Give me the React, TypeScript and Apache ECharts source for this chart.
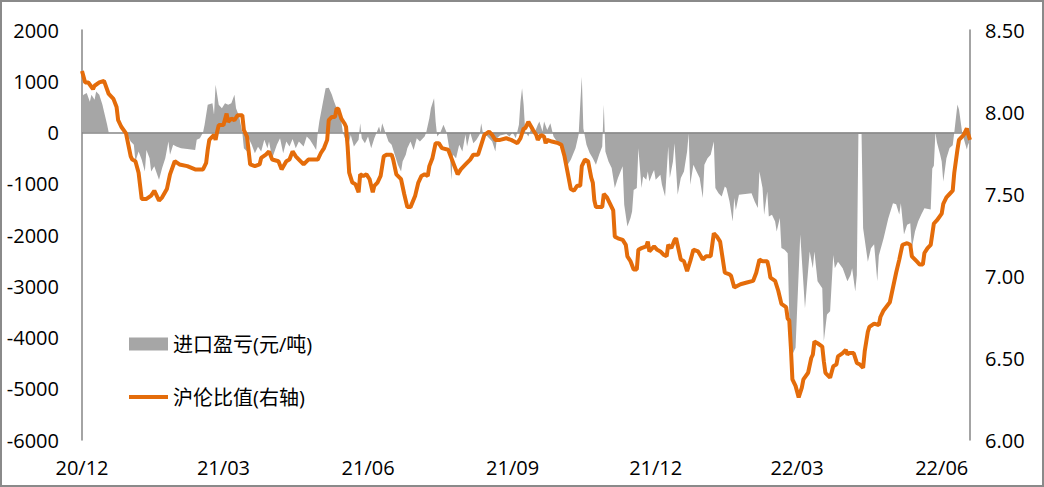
import React, { useEffect, useRef } from "react";
import * as echarts from "echarts";

const FONT = "'Open Sans', 'Noto Sans CJK SC', sans-serif";

const profitName = "进口盈亏(元/吨)";
const ratioName = "沪伦比值(右轴)";

const xTickDates = ["2020-12-01", "2021-03-01", "2021-06-01", "2021-09-01", "2021-12-01", "2022-03-01", "2022-06-01"];
const leftTicks = { min: -6000, max: 2000, interval: 1000 };
const rightTicks = { min: 6, max: 8.5, interval: 0.5 };

// 进口盈亏 (元/吨)
const profitData: [string, number][] = [
  ["2020-12-01", 700], ["2020-12-02", 735], ["2020-12-04", 770], ["2020-12-06", 600], ["2020-12-07", 735],
  ["2020-12-09", 640], ["2020-12-10", 800], ["2020-12-12", 735], ["2020-12-14", 540], ["2020-12-15", 410],
  ["2020-12-17", 150], ["2020-12-18", 0], ["2020-12-21", 0], ["2020-12-29", 0], ["2021-01-01", -175],
  ["2021-01-03", -240], ["2021-01-04", -565], ["2021-01-06", -370], ["2021-01-08", -530], ["2021-01-10", -760],
  ["2021-01-11", -340], ["2021-01-13", -500], ["2021-01-14", -760], ["2021-01-16", -660], ["2021-01-19", -920],
  ["2021-01-21", -695], ["2021-01-23", -500], ["2021-01-25", -175], ["2021-01-26", -435], ["2021-01-28", -240],
  ["2021-01-30", -275], ["2021-02-02", -305], ["2021-02-06", -320], ["2021-02-11", -340], ["2021-02-12", -140],
  ["2021-02-14", -110], ["2021-02-16", 0], ["2021-02-17", 150], ["2021-02-19", 540], ["2021-02-22", 570],
  ["2021-02-23", 345], ["2021-02-24", 930], ["2021-02-26", 540], ["2021-02-28", 475], ["2021-03-02", 570],
  ["2021-03-04", 540], ["2021-03-06", 570], ["2021-03-08", 735], ["2021-03-09", 475], ["2021-03-11", 310],
  ["2021-03-13", 0], ["2021-03-14", -305], ["2021-03-16", -370], ["2021-03-17", -110], ["2021-03-19", -240],
  ["2021-03-21", -405], ["2021-03-23", -280], ["2021-03-25", -370], ["2021-03-27", -140], ["2021-03-29", -305],
  ["2021-03-30", -175], ["2021-04-01", -500], ["2021-04-04", -240], ["2021-04-06", -110], ["2021-04-08", -405],
  ["2021-04-10", -175], ["2021-04-12", -275], ["2021-04-14", -125], ["2021-04-16", -305], ["2021-04-18", -175],
  ["2021-04-21", -275], ["2021-04-23", -80], ["2021-04-25", -140], ["2021-04-27", -240], ["2021-04-29", -340],
  ["2021-04-30", 0], ["2021-05-01", 215], ["2021-05-03", 540], ["2021-05-05", 865], ["2021-05-07", 875],
  ["2021-05-09", 735], ["2021-05-10", 640], ["2021-05-12", 475], ["2021-05-14", 410], ["2021-05-15", 215],
  ["2021-05-16", 0], ["2021-05-18", -175], ["2021-05-19", -305], ["2021-05-21", -50], ["2021-05-23", -275],
  ["2021-05-26", -140], ["2021-05-27", 180], ["2021-05-28", -110], ["2021-05-30", -210], ["2021-06-01", -80],
  ["2021-06-03", -305], ["2021-06-05", -110], ["2021-06-08", 115], ["2021-06-09", 0], ["2021-06-10", 180],
  ["2021-06-12", 0], ["2021-06-14", -175], ["2021-06-16", -240], ["2021-06-18", -435], ["2021-06-20", -630],
  ["2021-06-22", -760], ["2021-06-23", -565], ["2021-06-25", -435], ["2021-06-26", -305], ["2021-06-28", -175],
  ["2021-06-30", -340], ["2021-07-02", -110], ["2021-07-04", -175], ["2021-07-07", -80], ["2021-07-08", 0],
  ["2021-07-10", 280], ["2021-07-11", 475], ["2021-07-13", 670], ["2021-07-14", 215], ["2021-07-15", -80],
  ["2021-07-17", 0], ["2021-07-19", 150], ["2021-07-21", 0], ["2021-07-23", -370], ["2021-07-24", -920],
  ["2021-07-25", -435], ["2021-07-27", -500], ["2021-07-29", -240], ["2021-07-31", -370], ["2021-08-02", -40],
  ["2021-08-03", -275], ["2021-08-05", 0], ["2021-08-07", -210], ["2021-08-09", -140], ["2021-08-11", -40],
  ["2021-08-12", 180], ["2021-08-13", 0], ["2021-08-16", -80], ["2021-08-19", -175], ["2021-08-21", -370],
  ["2021-08-22", -110], ["2021-08-24", -60], ["2021-08-28", -30], ["2021-08-30", -80], ["2021-09-01", 0],
  ["2021-09-03", -110], ["2021-09-05", 150], ["2021-09-06", 600], ["2021-09-07", 865], ["2021-09-08", 540],
  ["2021-09-09", 20], ["2021-09-11", -80], ["2021-09-13", 100], ["2021-09-14", 115], ["2021-09-15", 0],
  ["2021-09-17", 150], ["2021-09-18", 215], ["2021-09-20", 20], ["2021-09-21", 215], ["2021-09-23", 50],
  ["2021-09-25", 180], ["2021-09-27", -80], ["2021-09-30", -210], ["2021-10-02", -305], ["2021-10-04", -500],
  ["2021-10-06", -630], ["2021-10-08", -530], ["2021-10-11", -305], ["2021-10-13", -40], ["2021-10-14", 540],
  ["2021-10-15", 1090], ["2021-10-16", 80], ["2021-10-18", -240], ["2021-10-20", -400], ["2021-10-22", -500],
  ["2021-10-24", -630], ["2021-10-26", -435], ["2021-10-28", -275], ["2021-10-29", 540], ["2021-10-30", -370],
  ["2021-11-01", -565], ["2021-11-03", -695], ["2021-11-05", -1085], ["2021-11-07", -890], ["2021-11-10", -660],
  ["2021-11-11", -1410], ["2021-11-13", -1835], ["2021-11-15", -1670], ["2021-11-16", -1540], ["2021-11-17", -1120],
  ["2021-11-19", -1085], ["2021-11-20", -305], ["2021-11-22", -1085], ["2021-11-23", -860], ["2021-11-25", -920],
  ["2021-11-26", -760], ["2021-11-27", -955], ["2021-11-29", -795], ["2021-11-30", -730], ["2021-12-01", -920],
  ["2021-12-04", -825], ["2021-12-05", -1020], ["2021-12-07", -1250], ["2021-12-09", -275], ["2021-12-10", -890],
  ["2021-12-12", -565], ["2021-12-13", -210], ["2021-12-15", -1215], ["2021-12-17", -890], ["2021-12-19", -760],
  ["2021-12-21", -370], ["2021-12-22", -20], ["2021-12-23", -1020], ["2021-12-25", -630], ["2021-12-27", -760],
  ["2021-12-29", -890], ["2021-12-31", -1280], ["2022-01-01", -630], ["2022-01-03", -500], ["2022-01-05", -435],
  ["2022-01-07", -175], ["2022-01-08", -1085], ["2022-01-10", -1185], ["2022-01-12", -1250], ["2022-01-14", -1055],
  ["2022-01-15", -1085], ["2022-01-17", -1345], ["2022-01-19", -1735], ["2022-01-20", -1280], ["2022-01-21", -1510],
  ["2022-01-23", -1215], ["2022-01-27", -1200], ["2022-01-31", -1185], ["2022-02-02", -1345], ["2022-02-04", -1475],
  ["2022-02-05", -760], ["2022-02-07", -1085], ["2022-02-08", -1605], ["2022-02-10", -1150], ["2022-02-11", -1640],
  ["2022-02-13", -1605], ["2022-02-15", -1735], ["2022-02-16", -1930], ["2022-02-18", -1670], ["2022-02-19", -2255],
  ["2022-02-21", -2290], ["2022-02-23", -2355], ["2022-02-24", -3555], ["2022-02-26", -4330], ["2022-02-28", -4200],
  ["2022-03-03", -1990], ["2022-03-06", -3430], ["2022-03-09", -2320], ["2022-03-11", -2650], ["2022-03-12", -2320],
  ["2022-03-14", -2900], ["2022-03-17", -3040], ["2022-03-18", -4075], ["2022-03-20", -3550], ["2022-03-22", -3490],
  ["2022-03-24", -2390], ["2022-03-25", -2650], ["2022-03-27", -2520], ["2022-03-30", -2650], ["2022-04-02", -2900],
  ["2022-04-04", -2780], ["2022-04-05", -2650], ["2022-04-07", -3100], ["2022-04-08", -2780], ["2022-04-09", -30],
  ["2022-04-11", -30], ["2022-04-12", -1870], ["2022-04-15", -2520], ["2022-04-17", -2260], ["2022-04-19", -2180],
  ["2022-04-21", -2900], ["2022-04-22", -2400], ["2022-04-25", -2070], ["2022-04-28", -1680], ["2022-05-01", -1380],
  ["2022-05-03", -1400], ["2022-05-05", -1600], ["2022-05-06", -1380], ["2022-05-08", -1990], ["2022-05-10", -1800],
  ["2022-05-12", -1770], ["2022-05-13", -2260], ["2022-05-15", -1930], ["2022-05-17", -1735], ["2022-05-19", -1600],
  ["2022-05-21", -1480], ["2022-05-25", -1500], ["2022-05-26", -700], ["2022-05-27", -650], ["2022-05-28", 0],
  ["2022-05-29", -200], ["2022-05-31", -430], ["2022-06-01", -565], ["2022-06-02", -955], ["2022-06-04", -500],
  ["2022-06-06", -300], ["2022-06-08", -250], ["2022-06-09", 0], ["2022-06-11", 545], ["2022-06-12", 450],
  ["2022-06-14", 0], ["2022-06-15", -115], ["2022-06-17", -330], ["2022-06-18", -200], ["2022-06-19", -330],
];

// 沪伦比值 (右轴)
const ratioData: [string, number][] = [
  ["2020-12-01", 8.25], ["2020-12-03", 8.18], ["2020-12-05", 8.18], ["2020-12-08", 8.14], ["2020-12-09", 8.16],
  ["2020-12-12", 8.18], ["2020-12-15", 8.19], ["2020-12-18", 8.11], ["2020-12-21", 8.08], ["2020-12-23", 8.03],
  ["2020-12-24", 7.95], ["2020-12-26", 7.91], ["2020-12-29", 7.87], ["2021-01-01", 7.73], ["2021-01-02", 7.71],
  ["2021-01-04", 7.70], ["2021-01-06", 7.63], ["2021-01-08", 7.47], ["2021-01-11", 7.47], ["2021-01-14", 7.49],
  ["2021-01-16", 7.52], ["2021-01-19", 7.46], ["2021-01-21", 7.48], ["2021-01-24", 7.53], ["2021-01-26", 7.62],
  ["2021-01-29", 7.70], ["2021-02-01", 7.68], ["2021-02-06", 7.67], ["2021-02-11", 7.65], ["2021-02-16", 7.65],
  ["2021-02-18", 7.69], ["2021-02-19", 7.77], ["2021-02-20", 7.83], ["2021-02-23", 7.86], ["2021-02-24", 7.83],
  ["2021-02-25", 7.88], ["2021-02-26", 7.92], ["2021-03-01", 7.92], ["2021-03-03", 7.99], ["2021-03-04", 7.94],
  ["2021-03-06", 7.96], ["2021-03-08", 7.95], ["2021-03-10", 7.98], ["2021-03-13", 7.98], ["2021-03-14", 7.89],
  ["2021-03-16", 7.85], ["2021-03-18", 7.68], ["2021-03-21", 7.67], ["2021-03-24", 7.68], ["2021-03-25", 7.72],
  ["2021-03-28", 7.74], ["2021-03-30", 7.76], ["2021-04-01", 7.71], ["2021-04-05", 7.70], ["2021-04-07", 7.65],
  ["2021-04-10", 7.70], ["2021-04-12", 7.71], ["2021-04-14", 7.76], ["2021-04-16", 7.73], ["2021-04-18", 7.71],
  ["2021-04-21", 7.68], ["2021-04-24", 7.71], ["2021-04-27", 7.71], ["2021-04-30", 7.71], ["2021-05-02", 7.75],
  ["2021-05-04", 7.78], ["2021-05-06", 7.83], ["2021-05-07", 7.95], ["2021-05-09", 7.97], ["2021-05-11", 7.97],
  ["2021-05-12", 8.02], ["2021-05-13", 8.02], ["2021-05-15", 7.96], ["2021-05-17", 7.93], ["2021-05-18", 7.91],
  ["2021-05-19", 7.79], ["2021-05-20", 7.63], ["2021-05-22", 7.57], ["2021-05-24", 7.56], ["2021-05-26", 7.51],
  ["2021-05-27", 7.62], ["2021-05-29", 7.61], ["2021-05-31", 7.62], ["2021-06-02", 7.59], ["2021-06-04", 7.51],
  ["2021-06-05", 7.55], ["2021-06-07", 7.57], ["2021-06-09", 7.61], ["2021-06-11", 7.73], ["2021-06-13", 7.74],
  ["2021-06-16", 7.74], ["2021-06-17", 7.71], ["2021-06-19", 7.62], ["2021-06-22", 7.59], ["2021-06-24", 7.50],
  ["2021-06-26", 7.42], ["2021-06-28", 7.42], ["2021-07-01", 7.49], ["2021-07-03", 7.57], ["2021-07-05", 7.61],
  ["2021-07-07", 7.62], ["2021-07-09", 7.61], ["2021-07-10", 7.67], ["2021-07-12", 7.72], ["2021-07-14", 7.81],
  ["2021-07-16", 7.81], ["2021-07-18", 7.78], ["2021-07-22", 7.77], ["2021-07-24", 7.72], ["2021-07-26", 7.67],
  ["2021-07-28", 7.62], ["2021-07-30", 7.65], ["2021-08-02", 7.68], ["2021-08-05", 7.71], ["2021-08-07", 7.74],
  ["2021-08-10", 7.74], ["2021-08-12", 7.80], ["2021-08-14", 7.86], ["2021-08-17", 7.88], ["2021-08-19", 7.86],
  ["2021-08-21", 7.83], ["2021-08-24", 7.83], ["2021-08-28", 7.84], ["2021-08-31", 7.83], ["2021-09-02", 7.82],
  ["2021-09-04", 7.81], ["2021-09-06", 7.84], ["2021-09-08", 7.90], ["2021-09-09", 7.90], ["2021-09-11", 7.94],
  ["2021-09-14", 7.89], ["2021-09-16", 7.86], ["2021-09-17", 7.83], ["2021-09-19", 7.86], ["2021-09-21", 7.85],
  ["2021-09-22", 7.81], ["2021-09-23", 7.83], ["2021-09-26", 7.82], ["2021-09-30", 7.81], ["2021-10-02", 7.80],
  ["2021-10-04", 7.73], ["2021-10-06", 7.63], ["2021-10-08", 7.53], ["2021-10-10", 7.52], ["2021-10-12", 7.55],
  ["2021-10-14", 7.55], ["2021-10-15", 7.67], ["2021-10-17", 7.71], ["2021-10-19", 7.70], ["2021-10-20", 7.65],
  ["2021-10-21", 7.60], ["2021-10-22", 7.57], ["2021-10-23", 7.46], ["2021-10-24", 7.42], ["2021-10-28", 7.42],
  ["2021-10-29", 7.50], ["2021-10-31", 7.48], ["2021-11-02", 7.44], ["2021-11-04", 7.40], ["2021-11-05", 7.24],
  ["2021-11-07", 7.23], ["2021-11-10", 7.22], ["2021-11-12", 7.19], ["2021-11-13", 7.12], ["2021-11-15", 7.09],
  ["2021-11-17", 7.04], ["2021-11-19", 7.04], ["2021-11-20", 7.16], ["2021-11-22", 7.17], ["2021-11-25", 7.18],
  ["2021-11-26", 7.21], ["2021-11-27", 7.15], ["2021-11-30", 7.18], ["2021-12-02", 7.16], ["2021-12-04", 7.15],
  ["2021-12-06", 7.13], ["2021-12-08", 7.12], ["2021-12-09", 7.19], ["2021-12-11", 7.17], ["2021-12-13", 7.22],
  ["2021-12-14", 7.23], ["2021-12-17", 7.10], ["2021-12-19", 7.09], ["2021-12-21", 7.03], ["2021-12-23", 7.09],
  ["2021-12-25", 7.16], ["2021-12-28", 7.15], ["2021-12-31", 7.10], ["2022-01-02", 7.12], ["2022-01-05", 7.12],
  ["2022-01-07", 7.26], ["2022-01-09", 7.24], ["2022-01-11", 7.21], ["2022-01-14", 7.02], ["2022-01-17", 7.01],
  ["2022-01-18", 7.00], ["2022-01-20", 6.93], ["2022-01-24", 6.95], ["2022-01-28", 6.96], ["2022-02-01", 6.97],
  ["2022-02-03", 7.02], ["2022-02-05", 7.10], ["2022-02-07", 7.09], ["2022-02-10", 7.09], ["2022-02-11", 7.05],
  ["2022-02-12", 6.99], ["2022-02-15", 6.97], ["2022-02-17", 6.91], ["2022-02-19", 6.83], ["2022-02-22", 6.81],
  ["2022-02-23", 6.74], ["2022-02-24", 6.73], ["2022-02-25", 6.57], ["2022-02-26", 6.37], ["2022-02-28", 6.33],
  ["2022-03-02", 6.26], ["2022-03-04", 6.32], ["2022-03-05", 6.37], ["2022-03-08", 6.41], ["2022-03-10", 6.50],
  ["2022-03-11", 6.52], ["2022-03-12", 6.60], ["2022-03-14", 6.59], ["2022-03-17", 6.57], ["2022-03-18", 6.48],
  ["2022-03-19", 6.41], ["2022-03-21", 6.39], ["2022-03-22", 6.38], ["2022-03-24", 6.45], ["2022-03-26", 6.46],
  ["2022-03-27", 6.51], ["2022-03-30", 6.53], ["2022-04-01", 6.55], ["2022-04-02", 6.52], ["2022-04-03", 6.53],
  ["2022-04-06", 6.53], ["2022-04-08", 6.47], ["2022-04-10", 6.46], ["2022-04-12", 6.44], ["2022-04-13", 6.54],
  ["2022-04-15", 6.66], ["2022-04-16", 6.69], ["2022-04-19", 6.71], ["2022-04-22", 6.70], ["2022-04-23", 6.75],
  ["2022-04-25", 6.79], ["2022-04-29", 6.84], ["2022-05-01", 6.93], ["2022-05-03", 7.02], ["2022-05-05", 7.10],
  ["2022-05-07", 7.19], ["2022-05-10", 7.20], ["2022-05-12", 7.19], ["2022-05-13", 7.12], ["2022-05-16", 7.09],
  ["2022-05-18", 7.07], ["2022-05-20", 7.07], ["2022-05-21", 7.14], ["2022-05-23", 7.17], ["2022-05-25", 7.19],
  ["2022-05-27", 7.32], ["2022-05-29", 7.34], ["2022-06-01", 7.38], ["2022-06-02", 7.44], ["2022-06-04", 7.48],
  ["2022-06-06", 7.50], ["2022-06-08", 7.52], ["2022-06-09", 7.63], ["2022-06-11", 7.77], ["2022-06-12", 7.83],
  ["2022-06-15", 7.86], ["2022-06-17", 7.90], ["2022-06-18", 7.86], ["2022-06-19", 7.83],
];

const X_MIN = "2020-12-01";
const X_MAX = "2022-06-19";

function toTime(s: string): number {
  const [y, m, d] = s.split("-").map(Number);
  return new Date(y, m - 1, d).getTime();
}

export default function App() {
  const ref = useRef<HTMLDivElement>(null);

  useEffect(() => {
    if (!ref.current) return;
    const chart = echarts.init(ref.current, undefined, { renderer: "svg" });
    const axisColor = "#868686";
    const labelStyle = { fontSize: 20, color: "#000", fontFamily: FONT };
    chart.setOption({
      animation: false,
      backgroundColor: "#fff",
      grid: { left: 82, right: 74, top: 30, bottom: 47, containLabel: false },
      graphic: [
        {
          type: "rect",
          shape: { x: 1, y: 1, width: 1042, height: 485 },
          style: { fill: "none", stroke: "#8a8a8a", lineWidth: 2 },
          silent: true,
        },
      ],
      legend: [
        {
          data: [{ name: profitName, icon: "rect" }],
          left: 129,
          top: 334,
          padding: 0,
          itemWidth: 39,
          itemHeight: 13,
          selectedMode: false,
          textStyle: { ...labelStyle },
        },
        {
          data: [{ name: ratioName, icon: "rect" }],
          left: 129,
          top: 387,
          padding: 0,
          itemWidth: 39,
          itemHeight: 4,
          selectedMode: false,
          textStyle: { ...labelStyle },
        },
      ],
      xAxis: {
        type: "value",
        min: toTime(X_MIN),
        max: toTime(X_MAX),
        axisLine: { show: false },
        axisTick: { show: false },
        splitLine: { show: false },
        axisLabel: {
          ...labelStyle,
          margin: 17,
          customValues: xTickDates.map(toTime),
          formatter: (v: number) => {
            const d = new Date(v);
            const yy = String(d.getFullYear()).slice(2);
            const mm = String(d.getMonth() + 1).padStart(2, "0");
            return `${yy}/${mm}`;
          },
        },
      },
      yAxis: [
        {
          type: "value",
          min: leftTicks.min,
          max: leftTicks.max,
          interval: leftTicks.interval,
          axisLine: { show: true, lineStyle: { color: axisColor, width: 1.5 } },
          axisTick: { show: false },
          splitLine: { show: false },
          axisLabel: { ...labelStyle, margin: 23, formatter: (v: number) => String(v) },
        },
        {
          type: "value",
          min: rightTicks.min,
          max: rightTicks.max,
          interval: rightTicks.interval,
          position: "right",
          axisLine: { show: true, lineStyle: { color: axisColor, width: 1.5 } },
          axisTick: { show: false },
          splitLine: { show: false },
          axisLabel: { ...labelStyle, margin: 15, formatter: (v: number) => v.toFixed(2) },
        },
      ],
      series: [
        {
          name: profitName,
          type: "line",
          yAxisIndex: 0,
          data: profitData.map(([d, v]) => [toTime(d), v]),
          symbol: "none",
          color: "#a6a6a6",
          lineStyle: { width: 0, color: "#a6a6a6" },
          areaStyle: { color: "#a6a6a6", opacity: 1 },
          z: 2,
          markLine: {
            silent: true,
            symbol: "none",
            label: { show: false },
            lineStyle: { color: axisColor, width: 1.5, type: "solid" },
            data: [{ yAxis: 0 }],
          },
        },
        {
          name: ratioName,
          type: "line",
          yAxisIndex: 1,
          data: ratioData.map(([d, v]) => [toTime(d), v]),
          symbol: "none",
          color: "#e46c0a",
          lineStyle: { width: 4, color: "#e46c0a" },
          z: 5,
        },
      ],
    });
    return () => chart.dispose();
  }, []);

  return (
    <div
      ref={ref}
      style={{ position: "fixed", left: 0, top: 0, width: 1044, height: 487, background: "#fff" }}
    />
  );
}
